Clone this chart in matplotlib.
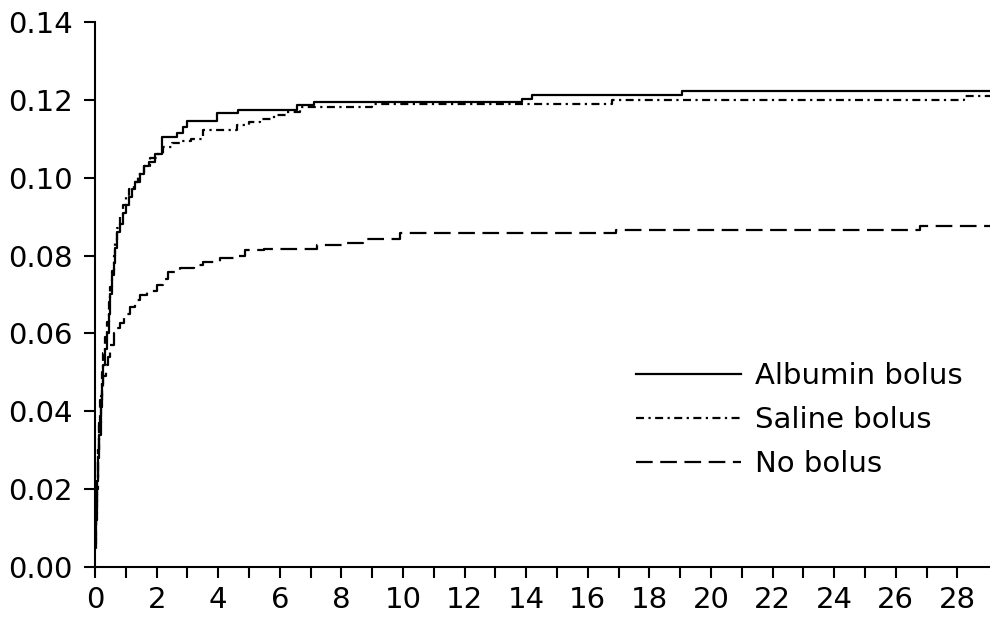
import matplotlib
matplotlib.use("Agg")
import matplotlib.pyplot as plt

# ---- data (step functions: time in days, cumulative incidence) ----
albumin_t = [0.00, 0.03, 0.06, 0.10, 0.14, 0.18, 0.22, 0.27, 0.32, 0.38, 0.44, 0.50,
             0.55, 0.60, 0.66, 0.72, 0.80, 0.90, 1.00, 1.10, 1.20, 1.30, 1.45, 1.60,
             1.75, 1.95, 2.17, 2.65, 2.85, 3.00, 3.95, 4.65, 6.55, 7.10, 13.85, 14.20,
             19.05, 29.1]
albumin_v = [0.008, 0.015, 0.022, 0.028, 0.034, 0.041, 0.047, 0.052, 0.056, 0.060, 0.065, 0.070,
             0.075, 0.078, 0.082, 0.086, 0.088, 0.091, 0.093, 0.095, 0.097, 0.099, 0.101, 0.103,
             0.104, 0.106, 0.1105, 0.1115, 0.113, 0.1146, 0.1166, 0.1174, 0.1187, 0.1195, 0.1202, 0.1213,
             0.1223, 0.1223]

saline_t = [0.00, 0.03, 0.06, 0.10, 0.14, 0.18, 0.22, 0.27, 0.32, 0.38, 0.44, 0.50,
            0.55, 0.60, 0.66, 0.72, 0.80, 0.90, 1.00, 1.10, 1.25, 1.40, 1.60, 1.80,
            2.00, 2.20, 2.50, 2.76, 3.10, 3.50, 4.60, 5.00, 5.36, 5.80, 6.20, 6.66,
            9.00, 16.80, 28.20, 29.1]
saline_v = [0.006, 0.014, 0.022, 0.030, 0.037, 0.044, 0.050, 0.055, 0.059, 0.063, 0.068, 0.072,
            0.076, 0.080, 0.084, 0.087, 0.090, 0.093, 0.095, 0.097, 0.099, 0.101, 0.103, 0.105,
            0.106, 0.108, 0.1088, 0.1093, 0.110, 0.1123, 0.1135, 0.1142, 0.115, 0.116, 0.117, 0.1182,
            0.1189, 0.1200, 0.1211, 0.1211]

nobolus_t = [0.00, 0.03, 0.06, 0.10, 0.13, 0.16, 0.21, 0.27, 0.35, 0.43, 0.50, 0.60,
             0.70, 0.81, 0.95, 1.14, 1.30, 1.46, 1.70, 2.00, 2.20, 2.38, 2.76, 3.20,
             3.52, 4.06, 4.50, 4.87, 5.50, 7.20, 8.05, 8.70, 9.90, 16.90, 26.80, 29.1]
nobolus_v = [0.005, 0.012, 0.020, 0.030, 0.037, 0.043, 0.046, 0.049, 0.052, 0.054, 0.057, 0.060,
             0.0615, 0.0627, 0.065, 0.0669, 0.0685, 0.0699, 0.071, 0.0724, 0.074, 0.0759, 0.0767, 0.0775,
             0.0784, 0.0793, 0.080, 0.0814, 0.0817, 0.0827, 0.0833, 0.0843, 0.0857, 0.0866, 0.0876, 0.0876]

labels = ["Albumin bolus", "Saline bolus", "No bolus"]
x_ticks = list(range(0, 29, 2))
y_ticks = [0.00, 0.02, 0.04, 0.06, 0.08, 0.10, 0.12, 0.14]

plt.rcParams['font.family'] = ['DejaVu Sans']

fig = plt.figure(figsize=(9.9, 6.19), dpi=100)
ax = fig.add_axes([0.096, 0.084, 0.904, 0.8805])

ax.plot(albumin_t, albumin_v, drawstyle='steps-post', color='black', lw=1.6,
        label=labels[0])
ax.plot(saline_t, saline_v, drawstyle='steps-post', color='black', lw=1.6,
        dashes=(3.6, 2.0, 1.0, 2.0), label=labels[1])
ax.plot(nobolus_t, nobolus_v, drawstyle='steps-post', color='black', lw=1.6,
        dashes=(7.5, 3.4), label=labels[2])

ax.set_xlim(0, 29.06)
ax.set_ylim(0, 0.14)
ax.set_xticks(x_ticks)
ax.set_xticks(range(0, 29, 1), minor=True)
ax.set_yticks(y_ticks)
ax.set_yticklabels([f"{v:.2f}" for v in y_ticks])

for s in ['top', 'right']:
    ax.spines[s].set_visible(False)
for s in ['left', 'bottom']:
    ax.spines[s].set_linewidth(1.5)
ax.tick_params(axis='both', which='both', direction='out', length=8, width=1.5,
               labelsize=21, colors='black')
ax.tick_params(axis='x', pad=6)
ax.tick_params(axis='y', pad=8)

leg = ax.legend(loc='upper left', bbox_to_anchor=(0.604, 0.376), frameon=False,
                fontsize=21, handlelength=3.6, handletextpad=0.5, labelspacing=0.55,
                borderpad=0, borderaxespad=0)
for t in leg.get_texts():
    t.set_color('black')

fig.savefig("out.png", dpi=100, facecolor='white')
